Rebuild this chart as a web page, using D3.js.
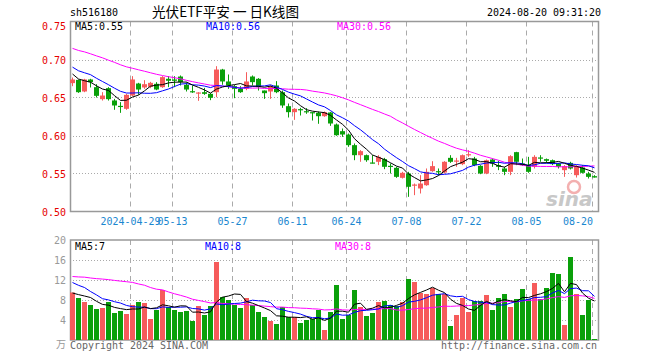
<!DOCTYPE html>
<html><head><meta charset="utf-8">
<script src="https://cdn.jsdelivr.net/npm/d3@7"></script>
<style>body{margin:0;background:#fff}svg{display:block}</style>
</head><body><svg id="c" width="660" height="360"></svg>
<script>
const dates = ["2024-04-15","2024-04-16","2024-04-17","2024-04-18","2024-04-19","2024-04-22","2024-04-23","2024-04-24","2024-04-25","2024-04-26","2024-04-29","2024-04-30",
"2024-05-06","2024-05-07","2024-05-08","2024-05-09","2024-05-10","2024-05-13","2024-05-14","2024-05-15","2024-05-16","2024-05-17","2024-05-20","2024-05-21","2024-05-22","2024-05-23","2024-05-24","2024-05-27","2024-05-28","2024-05-29","2024-05-30","2024-05-31",
"2024-06-03","2024-06-04","2024-06-05","2024-06-06","2024-06-07","2024-06-11","2024-06-12","2024-06-13","2024-06-14","2024-06-17","2024-06-18","2024-06-19","2024-06-20","2024-06-21","2024-06-24","2024-06-25","2024-06-26","2024-06-27","2024-06-28",
"2024-07-01","2024-07-02","2024-07-03","2024-07-04","2024-07-05","2024-07-08","2024-07-09","2024-07-10","2024-07-11","2024-07-12","2024-07-15","2024-07-16","2024-07-17","2024-07-18","2024-07-19","2024-07-22","2024-07-23","2024-07-24","2024-07-25","2024-07-26","2024-07-29","2024-07-30","2024-07-31",
"2024-08-01","2024-08-02","2024-08-05","2024-08-06","2024-08-07","2024-08-08","2024-08-09","2024-08-12","2024-08-13","2024-08-14","2024-08-15","2024-08-16","2024-08-19","2024-08-20"];

const open = [0.6689,0.6732,0.6579,0.6737,0.6636,0.6478,0.6623,0.6461,0.6390,0.6351,0.6526,0.6684,0.6632,0.6640,0.6680,0.6636,0.6746,0.6737,0.6776,0.6667,0.6583,0.6553,0.6570,0.6548,0.6570,0.6868,0.6711,0.6649,0.6614,0.6614,0.6776,0.6746,0.6592,0.6579,0.6658,0.6570,0.6386,0.6307,0.6347,0.6320,0.6307,0.6298,0.6254,0.6303,0.6145,0.6057,0.6013,0.5873,0.5741,0.5741,0.5645,0.5654,0.5689,0.5601,0.5575,0.5443,0.5500,0.5346,0.5303,0.5346,0.5531,0.5531,0.5513,0.5706,0.5662,0.5623,0.5750,0.5697,0.5601,0.5500,0.5684,0.5610,0.5566,0.5522,0.5781,0.5632,0.5610,0.5588,0.5711,0.5689,0.5675,0.5632,0.5544,0.5640,0.5478,0.5579,0.5500,0.5465];
const high = [0.6763,0.6737,0.6746,0.6746,0.6675,0.6570,0.6636,0.6482,0.6439,0.6548,0.6781,0.6693,0.6728,0.6706,0.6702,0.6781,0.6781,0.6781,0.6790,0.6700,0.6658,0.6570,0.6627,0.6557,0.6912,0.6877,0.6803,0.6667,0.6649,0.6833,0.6790,0.6755,0.6592,0.6658,0.6715,0.6592,0.6421,0.6360,0.6364,0.6360,0.6307,0.6316,0.6316,0.6311,0.6158,0.6092,0.6026,0.5895,0.5807,0.5750,0.5741,0.5741,0.5706,0.5632,0.5588,0.5522,0.5522,0.5368,0.5478,0.5566,0.5662,0.5566,0.5662,0.5741,0.5706,0.5750,0.5807,0.5719,0.5610,0.5684,0.5697,0.5667,0.5588,0.5741,0.5785,0.5697,0.5719,0.5741,0.5741,0.5697,0.5684,0.5640,0.5610,0.5654,0.5610,0.5610,0.5522,0.5478];
const low = [0.6649,0.6561,0.6570,0.6632,0.6500,0.6460,0.6460,0.6338,0.6298,0.6338,0.6518,0.6535,0.6614,0.6623,0.6596,0.6627,0.6636,0.6636,0.6658,0.6579,0.6561,0.6456,0.6535,0.6465,0.6504,0.6667,0.6614,0.6491,0.6561,0.6596,0.6658,0.6592,0.6482,0.6482,0.6557,0.6364,0.6237,0.6206,0.6263,0.6285,0.6197,0.6154,0.6246,0.6127,0.5996,0.5982,0.5851,0.5675,0.5654,0.5654,0.5632,0.5610,0.5557,0.5500,0.5443,0.5434,0.5193,0.5215,0.5237,0.5338,0.5522,0.5478,0.5500,0.5640,0.5588,0.5610,0.5719,0.5596,0.5491,0.5491,0.5588,0.5544,0.5478,0.5478,0.5610,0.5600,0.5509,0.5566,0.5654,0.5640,0.5610,0.5566,0.5456,0.5553,0.5447,0.5500,0.5434,0.5447];
const close = [0.6737,0.6570,0.6737,0.6702,0.6522,0.6526,0.6478,0.6395,0.6386,0.6535,0.6737,0.6605,0.6675,0.6693,0.6605,0.6768,0.6720,0.6720,0.6702,0.6605,0.6575,0.6566,0.6548,0.6496,0.6868,0.6711,0.6658,0.6614,0.6570,0.6711,0.6702,0.6636,0.6557,0.6645,0.6570,0.6395,0.6307,0.6351,0.6338,0.6307,0.6298,0.6254,0.6307,0.6158,0.6004,0.6013,0.5873,0.5741,0.5794,0.5675,0.5636,0.5719,0.5588,0.5588,0.5456,0.5509,0.5325,0.5355,0.5368,0.5522,0.5597,0.5522,0.5654,0.5654,0.5671,0.5741,0.5754,0.5610,0.5500,0.5675,0.5632,0.5588,0.5522,0.5728,0.5654,0.5610,0.5522,0.5719,0.5697,0.5667,0.5623,0.5588,0.5596,0.5566,0.5596,0.5509,0.5456,0.5447];
// volume (万手)
const volume = [9.5,8.4,7.6,7.0,6.2,6.4,7.6,5.4,5.8,5.2,7.0,7.6,7.4,4.2,6.0,10.0,6.6,6.0,5.6,5.8,3.8,6.8,5.0,6.8,15.6,8.6,8.0,7.0,6.4,8.4,7.0,5.6,4.6,3.8,3.2,6.6,4.6,4.6,3.4,4.0,4.2,6.0,2.0,5.6,11.0,4.2,5.0,10.0,6.6,4.8,5.4,7.6,7.8,7.0,6.8,7.6,12.2,11.6,9.4,9.2,10.4,9.2,9.2,2.8,5.0,8.4,5.6,7.8,7.8,9.0,6.0,8.4,9.2,6.6,8.2,10.2,8.2,11.4,8.2,10.4,13.4,13.2,3.0,16.6,9.2,5.0,8.0,0.2];
// closes / volumes of the 29 sessions before the window (needed for the moving averages)
const priorClose = [0.74,0.73,0.745,0.735,0.73,0.74,0.725,0.735,0.735,0.73,0.72,0.725,0.73,0.72,0.725,0.72,0.71,0.715,0.72,0.71,0.705,0.70,0.695,0.70,0.695,0.69,0.685,0.68,0.676];
const priorVolume = [11,9,12,10,9,11,10,10,9,11,17,15,18,16,14,19,17,15,16,17,14,12,15,13,14,10,9,8.5,10];

const priceTicks = [0.50,0.55,0.60,0.65,0.70,0.75];
const volTicks = [4,8,12,16,20];
const dateTicks = ["2024-04-29","2024-05-13","2024-05-27","2024-06-11","2024-06-24","2024-07-08","2024-07-22","2024-08-05","2024-08-20"];
const dateLabels = ["2024-04-29","05-13","05-27","06-11","06-24","07-08","07-22","08-05","08-20"];

const RED="#f65b5b", GREEN="#0aa00a", GRID="#aaaaaa", FRAME="#999999";
const svg = d3.select("#c");
const FONT = "'DejaVu Sans Mono', 'Liberation Mono', monospace";
function mono(t, x, y, col, anchor, size){
  return svg.append("text").attr("x",x).attr("y",y).attr("fill",col)
    .attr("font-family",FONT).attr("font-size",size||11)
    .attr("text-anchor",anchor||"start")
    .attr("textLength", t.length*6).attr("lengthAdjust","spacingAndGlyphs").text(t);
}

const L=70, R=598, PT=21.5, PB=211.5, VT=240, VB=340;
const x = d3.scaleBand().domain(dates).range([L-1, R-1]);
const cx = d => x(d) + 3;
const yP = d3.scaleLinear().domain([0.50,0.75]).range([PB, PT]);
const yV = d3.scaleLinear().domain([0,20]).range([VB, VT]);

function ma(vals, prior, n){
  const all = prior.concat(vals), off = prior.length;
  return vals.map((v,i)=> d3.mean(all.slice(off+i-n+1, off+i+1)));
}
const pMA = {5:ma(close,priorClose,5),10:ma(close,priorClose,10),30:ma(close,priorClose,30)};
const vMA = {5:ma(volume,priorVolume,5),10:ma(volume,priorVolume,10),30:ma(volume,priorVolume,30)};

// grids
function grids(top,bottom,yScale,ticks){
  const g = svg.append("g");
  g.selectAll("line.h").data(ticks).join("line")
    .attr("x1",L).attr("x2",R).attr("y1",d=>Math.round(yScale(d))+0.5).attr("y2",d=>Math.round(yScale(d))+0.5)
    .attr("stroke",GRID).attr("stroke-dasharray","1,2");
  g.selectAll("line.v").data(dateTicks).join("line")
    .attr("x1",d=>x(d)+1.5).attr("x2",d=>x(d)+1.5).attr("y1",top).attr("y2",bottom)
    .attr("stroke",GRID).attr("stroke-dasharray","5,4");
}
grids(PT,PB,yP,[0.55,0.60,0.65,0.70]);
grids(VT,VB,yV,[4,8,12,16]);

// sina watermark
svg.append("circle").attr("cx",574).attr("cy",187).attr("r",6).attr("fill","none").attr("stroke","#f3b0b0").attr("stroke-width",2.5);
svg.append("text").attr("x",546).attr("y",206).attr("font-family","'DejaVu Sans', sans-serif").attr("font-weight","bold").attr("font-style","italic").attr("font-size",20).attr("fill","#c8c8c8").text("sina");

// frames
[[PT,PB],[VT,VB]].forEach(([t,b])=>{
  svg.append("rect").attr("x",L+0.5).attr("y",t).attr("width",R-L).attr("height",b-t)
    .attr("fill","none").attr("stroke",FRAME).attr("stroke-width",1.5);
});

// candles
const idx = d3.range(dates.length);
const col = i => close[i] > open[i] ? RED : GREEN;
svg.append("g").selectAll("line").data(idx).join("line")
  .attr("x1",i=>cx(dates[i])+0.5).attr("x2",i=>cx(dates[i])+0.5)
  .attr("y1",i=>yP(high[i])).attr("y2",i=>yP(low[i])).attr("stroke",col);
svg.append("g").selectAll("rect").data(idx).join("rect")
  .attr("x",i=>cx(dates[i])-2).attr("width",5)
  .attr("y",i=>yP(Math.max(open[i],close[i])))
  .attr("height",i=>Math.max(1.2, Math.abs(yP(open[i])-yP(close[i]))))
  .attr("fill",col);

// volume bars
svg.append("g").selectAll("rect").data(idx).join("rect")
  .attr("x",i=>cx(dates[i])-2).attr("width",5)
  .attr("y",i=>yV(volume[i])).attr("height",i=>VB-yV(volume[i]))
  .attr("fill",col);

// MA lines
const maCols = {5:"#000000",10:"#0000ff",30:"#ff00ff"};
[30,10,5].forEach(n=>{
  svg.append("path").datum(idx).attr("fill","none").attr("stroke",maCols[n]).attr("stroke-width",1)
    .attr("d", d3.line().x(i=>cx(dates[i])+0.5).y(i=>yP(pMA[n][i]))(idx));
  svg.append("path").datum(idx).attr("fill","none").attr("stroke",maCols[n]).attr("stroke-width",1)
    .attr("d", d3.line().x(i=>cx(dates[i])+0.5).y(i=>yV(vMA[n][i]))(idx));
});

// axis labels (top price label sits just inside the frame)
priceTicks.forEach(p=> mono(p.toFixed(2), 66, yP(p) + (p===0.75 ? 8 : 4), "#e60000", "end"));
volTicks.forEach(v=> mono(String(v), 66, yV(v)+4, "#999999", "end"));
svg.append("text").attr("x",66).attr("y",348).attr("text-anchor","end").attr("fill","#999")
  .attr("font-family","'Noto Sans CJK SC'").attr("font-size",10).text("万");
dateTicks.forEach((d,k)=>{
  const last = k===dateTicks.length-1;
  mono(dateLabels[k], last ? x(d)+2 : x(d)+1.5, 225, "#1a87d0", last ? "end":"middle");
});

// header
mono("sh516180", 70, 16, "#000");
svg.append("text").attr("x",152).attr("y",17).attr("font-family","'Noto Sans CJK SC'").attr("font-size",14)
  .attr("textLength",147).attr("lengthAdjust","spacingAndGlyphs").attr("fill","#000").text("光伏ETF平安 一 日K线图");
mono("2024-08-20 09:31:20", 601, 16, "#000", "end");

// legends
const last = dates.length-1;
mono("MA5:"+pMA[5][last].toFixed(2), 75, 30, "#000");
mono("MA10:"+pMA[10][last].toFixed(2), 206, 30, "#0000ff");
mono("MA30:"+pMA[30][last].toFixed(2), 337, 30, "#ff00ff");
mono("MA5:"+Math.floor(vMA[5][last]), 75, 250, "#000");
mono("MA10:"+Math.floor(vMA[10][last]), 205, 250, "#0000ff");
mono("MA30:"+Math.floor(vMA[30][last]), 335, 250, "#ff00ff");

// footer
mono("Copyright 2024 SINA.COM", 70, 349, "#666");
mono("http://finance.sina.com.cn", 597, 349, "#666", "end");
</script></body></html>
